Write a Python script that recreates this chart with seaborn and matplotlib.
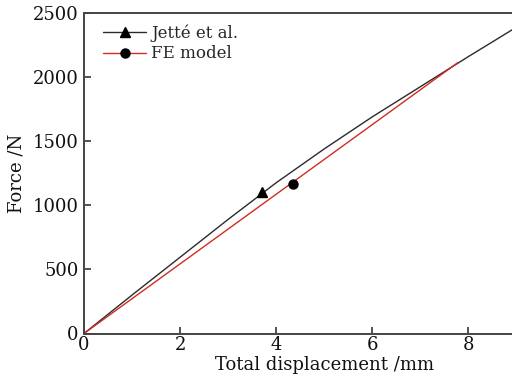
import matplotlib
matplotlib.use("Agg")
import matplotlib.pyplot as plt
import seaborn as sns
import pandas as pd
from matplotlib.lines import Line2D

sns.set_theme(style="ticks")
plt.rcParams["font.family"] = ["DejaVu Serif"]

# Load-displacement curves
jette_disp = [0, 1, 2, 3, 4, 5, 6, 7, 8, 8.92, 9.3]
jette_force = [0, 300, 595, 890, 1176, 1440, 1690, 1925, 2160, 2371, 2455]
fe_disp = [0, 7.78]
fe_force = [0, 2113]

# Highlighted points on each curve
jette_marker = (3.71, 1100)
fe_marker = (4.35, 1168)

x_ticks = [0, 2, 4, 6, 8]
y_ticks = [0, 500, 1000, 1500, 2000, 2500]

jette = pd.DataFrame({"disp": jette_disp, "force": jette_force})
fe = pd.DataFrame({"disp": fe_disp, "force": fe_force})

fig = plt.figure(figsize=(5.12, 3.76), dpi=100)
ax = fig.add_axes([84 / 512, 1 - 333.5 / 376, 480.5 / 512, 320.5 / 376])

sns.lineplot(data=jette, x="disp", y="force", ax=ax, color="#2b2b2b",
             linewidth=1.0, sort=False, estimator=None)
sns.lineplot(data=fe, x="disp", y="force", ax=ax, color="#d42a22",
             linewidth=1.0, sort=False, estimator=None)
ax.plot(*jette_marker, marker="^", color="black", markersize=6.5, clip_on=False)
ax.plot(*fe_marker, marker="o", color="black", markersize=6.5, clip_on=False)

ax.set_xlim(0, 10)
ax.set_ylim(0, 2500)
ax.set_xticks(x_ticks)
ax.set_yticks(y_ticks)
ax.tick_params(direction="in", length=5, width=1.2, color="#333333",
               labelsize=13, pad=2, labelcolor="#111111")
ax.tick_params(axis="y", pad=4)
for s in ax.spines.values():
    s.set_linewidth(1.4)
    s.set_color("#444444")

ax.set_xlabel("Total displacement /mm", fontsize=13, labelpad=1, color="#111111")
ax.set_ylabel("Force /N", fontsize=13, labelpad=5, color="#111111")

handles = [
    Line2D([], [], color="#2b2b2b", linewidth=1.0, marker="^",
           markerfacecolor="black", markeredgecolor="black", markersize=6.5),
    Line2D([], [], color="#d42a22", linewidth=1.0, marker="o",
           markerfacecolor="black", markeredgecolor="black", markersize=6.5),
]
ax.legend(handles, ["Jetté et al.", "FE model"], loc="upper left",
          bbox_to_anchor=(0.015, 1.0), frameon=False, fontsize=12,
          handlelength=2.6, handletextpad=0.3, labelspacing=0.2,
          borderaxespad=0.3)

fig.savefig("out.png", dpi=100)
